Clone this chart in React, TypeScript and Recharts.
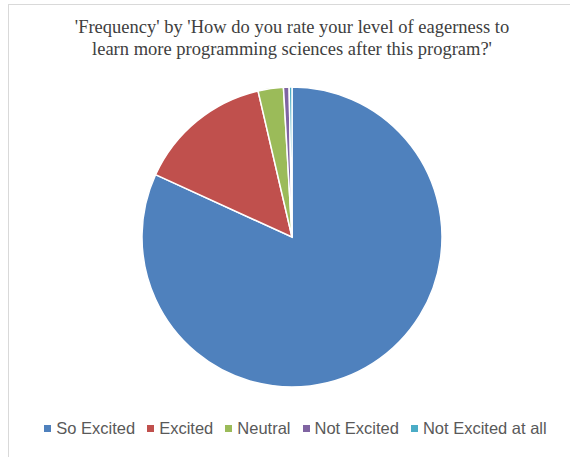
import React from "react";
import { PieChart, Pie, Cell } from "recharts";

const categories = ["So Excited", "Excited", "Neutral", "Not Excited", "Not Excited at all"];
const frequencies = [270, 48, 9, 2, 1];
const colors = ["#4F81BD", "#C0504D", "#9BBB59", "#8064A2", "#4BACC6"];
const titleLines = [
  "'Frequency' by 'How do you rate your level of eagerness to",
  "learn more programming sciences after this program?'",
];

const data = categories.map((name, i) => ({ name, value: frequencies[i] }));

const W = 570;
const H = 457;

export default function App() {
  return (
    <div style={{ position: "absolute", left: 0, top: 0, width: W, height: H, background: "#fff", overflow: "hidden" }}>
      <div
        style={{
          position: "absolute",
          left: 8,
          top: 4,
          width: W,
          height: H,
          borderTop: "1px solid #d9d9d9",
          borderLeft: "1px solid #d9d9d9",
        }}
      />
      <div
        style={{
          position: "absolute",
          left: 0,
          top: 16,
          width: 584,
          textAlign: "center",
          fontFamily: "'Liberation Serif', 'Times New Roman', serif",
          fontSize: 18.5,
          lineHeight: "22px",
          color: "#404040",
        }}
      >
        {titleLines.map((t, i) => (
          <div key={i}>{t}</div>
        ))}
      </div>
      <div style={{ position: "absolute", left: 0, top: 0 }}>
        <PieChart width={W} height={H} margin={{ top: 0, right: 0, bottom: 0, left: 0 }}>
          <Pie
            data={data}
            dataKey="value"
            nameKey="name"
            cx={292}
            cy={237}
            outerRadius={150}
            startAngle={90}
            endAngle={-270}
            stroke="#ffffff"
            strokeWidth={1.5}
            isAnimationActive={false}
          >
            {data.map((d, i) => (
              <Cell key={d.name} fill={colors[i]} />
            ))}
          </Pie>
        </PieChart>
      </div>
      {/* legend row under the pie */}
      <div
        style={{
          position: "absolute",
          left: 0,
          top: 418,
          width: 591,
          display: "flex",
          justifyContent: "center",
          alignItems: "center",
          fontFamily: "'Liberation Sans', Arial, sans-serif",
          fontSize: 16.5,
          lineHeight: "20px",
          color: "#595959",
        }}
      >
        {data.map((d, i) => (
          <div key={d.name} style={{ display: "flex", alignItems: "center", marginRight: i < data.length - 1 ? 12 : 0 }}>
            <span style={{ width: 7, height: 7, background: colors[i], display: "inline-block", marginRight: 5 }} />
            <span>{d.name}</span>
          </div>
        ))}
      </div>
    </div>
  );
}
